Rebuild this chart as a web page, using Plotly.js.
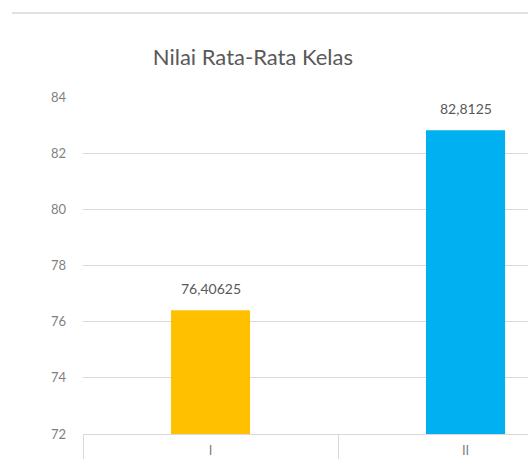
<!DOCTYPE html>
<html>
<head>
<meta charset="utf-8">
<script src="https://cdn.plot.ly/plotly-3.0.1.min.js"></script>
<style>html,body{margin:0;padding:0;background:#fff;}#chart{width:528px;height:459px;}</style>
</head>
<body>
<div id="chart"></div>
<script>
const categories = ["I", "II"];
const values = [76.40625, 82.8125];
const valueLabels = ["76,40625", "82,8125"];
const barColors = ["#FFC000", "#00B0F0"];
const yTicks = [72, 74, 76, 78, 80, 82, 84];
const chartTitle = "Nilai Rata-Rata Kelas";

const FONT = "Lato, 'Open Sans', sans-serif";

const trace = {
  type: "bar",
  x: categories,
  y: values,
  marker: {color: barColors, line: {width: 0}},
  width: 0.31,
  hoverinfo: "skip"
};

const annotations = categories.map((c, i) => ({
  x: c, y: values[i], text: valueLabels[i],
  xref: "x", yref: "y", showarrow: false,
  yanchor: "middle", yshift: 22,
  font: {family: FONT, size: 14, color: "#595959"}
}));

const layout = {
  width: 528, height: 459,
  margin: {l: 83, r: 0, t: 97, b: 25, pad: 0},
  paper_bgcolor: "#ffffff",
  plot_bgcolor: "#ffffff",
  showlegend: false,
  title: {
    text: chartTitle,
    font: {family: FONT, size: 22, color: "#595959"},
    xref: "container", yref: "container",
    x: 0.479, xanchor: "center",
    y: 1 - 57/459, yanchor: "middle"
  },
  xaxis: {
    type: "category",
    range: [-0.5, 1.245],
    showgrid: false,
    zeroline: false,
    showline: true, linecolor: "#D9D9D9", linewidth: 1,
    ticks: "outside", tickson: "boundaries", ticklen: 25, tickcolor: "#D9D9D9", tickwidth: 1,
    ticklabelstandoff: 4,
    tickfont: {family: FONT, size: 13, color: "#7F7F7F"},
    fixedrange: true
  },
  yaxis: {
    range: [72, 84],
    tickvals: yTicks,
    ticktext: yTicks.map(String),
    showgrid: true, gridcolor: "#D9D9D9", gridwidth: 1,
    zeroline: false, showline: false,
    ticks: "", ticklabelstandoff: 16,
    tickfont: {family: FONT, size: 13, color: "#7F7F7F"},
    fixedrange: true
  },
  shapes: [{
    type: "line", xref: "paper", yref: "paper",
    x0: (12 - 83) / 445, x1: 1.01, y0: (434 - 13) / 337, y1: (434 - 13) / 337,
    line: {color: "#D9D9D9", width: 1.5}
  }],
  annotations: annotations
};

Plotly.newPlot("chart", [trace], layout, {staticPlot: true, displayModeBar: false});
</script>
</body>
</html>
